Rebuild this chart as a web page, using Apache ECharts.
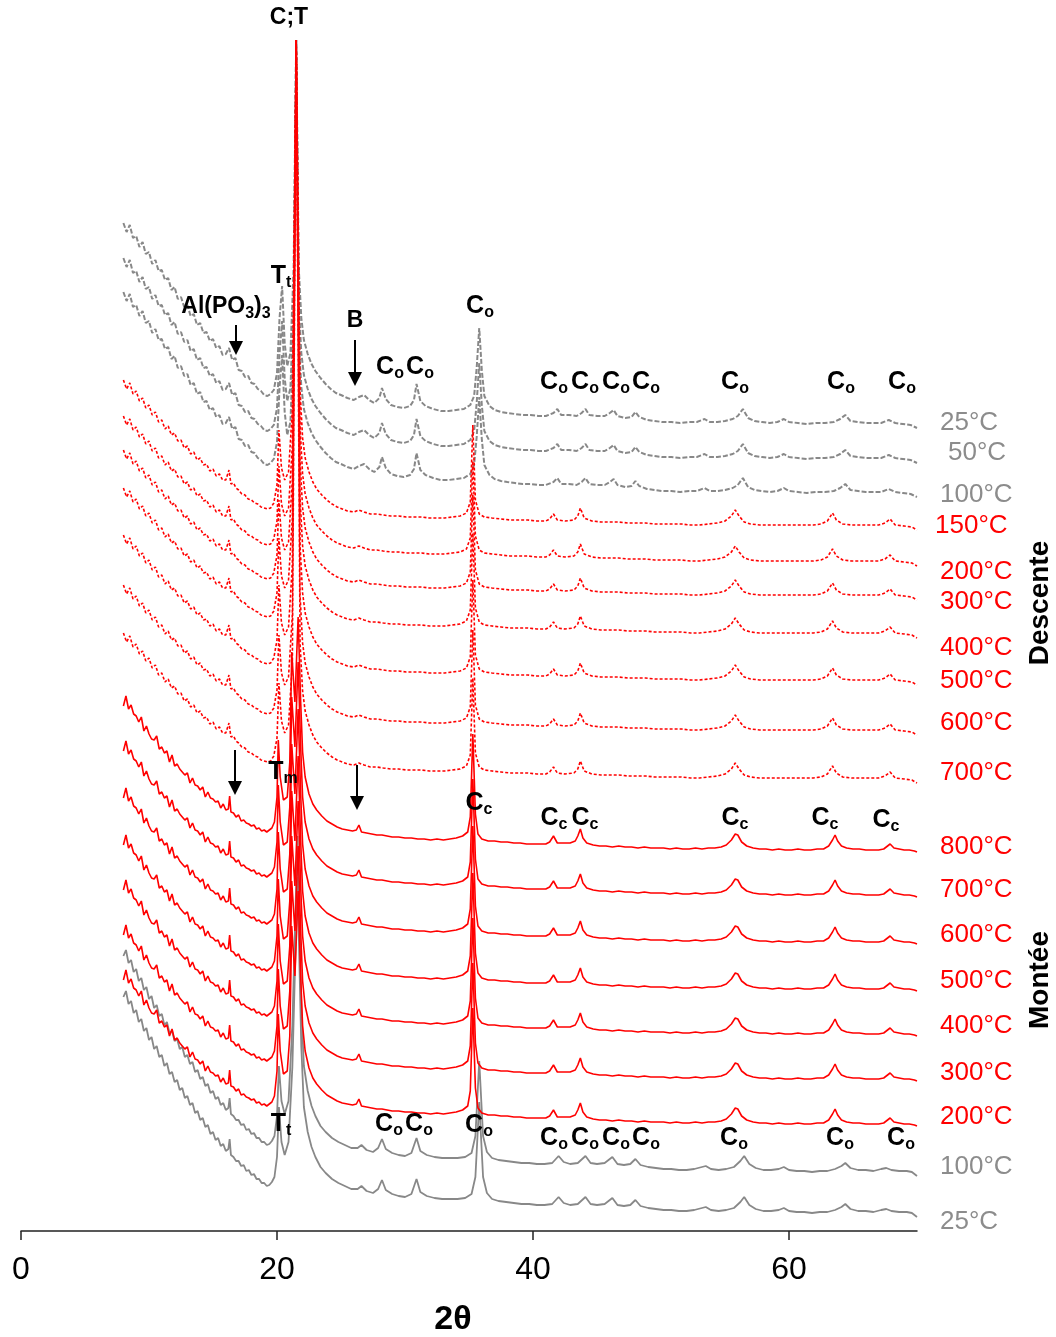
<!DOCTYPE html>
<html><head><meta charset="utf-8">
<script src="https://cdn.jsdelivr.net/npm/echarts@6/dist/echarts.min.js"></script>
<style>html,body{margin:0;padding:0;background:#fff}#c{width:1056px;height:1337px}</style>
</head><body><div id="c"></div><script>
// ---------- DATA (2θ in degrees, intensity in arbitrary units) ----------
const xTicks = [0, 20, 40, 60];

const descenteTemps = ['25°C','50°C','100°C','150°C','200°C','300°C','400°C','500°C','600°C','700°C'];
const descenteBaselines = [803, 768, 734, 701, 665, 631, 593, 546, 496, 448];
const descentePeakHeights = [388, 423, 457, 490, 526, 560, 598, 645, 695, 743];

const monteeTemps = ['800°C','700°C','600°C','500°C','400°C','300°C','200°C','100°C','25°C'];
const monteeBaselines = [379, 334, 287, 240, 195, 150, 105, 55, 14];

// gray (dashed) descente pattern (orthorhombic, Co)
const grayDescenteProfile = [[8.0,205],[8.25,196],[8.5,203],[8.75,190],[9.0,192],[9.25,181],[9.5,186],[9.75,174],[10.0,176],[10.25,164],[10.5,168],[10.75,157],[11.0,158],[11.25,148],[11.5,150],[11.75,138],[12.0,141],[12.25,129],[12.5,131],[12.75,121],[13.0,123],[13.25,112],[13.5,114],[13.75,103],[14.0,105],[14.25,95],[14.5,96],[14.75,87],[15.0,89],[15.25,80],[15.5,82],[15.75,73],[16.0,74],[16.25,80],[16.5,68],[16.75,70],[17.0,58],[17.25,57],[17.5,51],[17.75,52],[18.0,45],[18.25,44],[18.5,39],[18.75,37],[19.0,33],[19.25,32],[19.5,34],[19.75,38],[20.0,55],[20.2,110],[20.4,142],[20.6,85],[20.8,62],[21.05,75],[21.3,160],[21.5,388],[21.7,160],[21.9,110],[22.1,88],[22.4,74],[22.7,64],[23.0,57],[23.4,50],[23.8,44],[24.2,39],[24.6,35],[25.0,33],[25.5,30],[26.0,28],[26.4,31],[26.8,33],[27.2,28],[27.6,25],[28.0,30],[28.2,40],[28.5,29],[28.9,23],[29.4,21],[29.9,20],[30.4,22],[30.7,28],[30.9,44],[31.2,27],[31.6,22],[32.2,19],[32.8,17],[33.4,17],[34.0,18],[34.6,19],[35.1,23],[35.4,32],[35.6,60],[35.8,100],[36.0,58],[36.2,32],[36.6,22],[37.0,18],[37.5,16],[38.0,15],[38.6,14],[39.2,13],[39.8,13],[40.4,12],[41.0,12],[41.6,15],[41.9,19],[42.2,13],[42.8,13],[43.4,12],[43.8,15],[44.1,19],[44.4,13],[45.0,12],[45.6,12],[46.0,15],[46.3,18],[46.6,12],[47.2,10],[47.7,11],[48.0,16],[48.3,11],[48.9,8],[49.5,7],[50.1,6],[50.8,6],[51.5,5],[52.2,6],[52.8,6],[53.4,9],[53.8,6],[54.4,6],[55.0,7],[55.6,9],[56.0,12],[56.4,19],[56.8,10],[57.3,7],[57.9,6],[58.5,5],[59.1,6],[59.6,9],[60.0,6],[60.7,5],[61.4,4],[62.1,5],[62.8,5],[63.5,6],[64.0,9],[64.4,13],[64.8,7],[65.4,6],[66.0,5],[66.6,5],[67.2,5],[67.8,8],[68.3,5],[68.9,4],[69.5,3],[70.0,0]];

// red (dotted) descente pattern (cubic, Cc)
const redDescenteProfile = [[8.0,150],[8.25,141],[8.5,147],[8.75,136],[9.0,139],[9.25,129],[9.5,132],[9.75,122],[10.0,125],[10.25,115],[10.5,118],[10.75,108],[11.0,110],[11.25,101],[11.5,104],[11.75,95],[12.0,97],[12.25,89],[12.5,90],[12.75,82],[13.0,84],[13.25,76],[13.5,78],[13.75,70],[14.0,72],[14.25,65],[14.5,66],[14.75,59],[15.0,61],[15.25,54],[15.5,56],[15.75,50],[16.0,50],[16.25,60],[16.4,46],[16.6,47],[16.8,42],[17.0,40],[17.25,36],[17.5,35],[17.75,31],[18.0,30],[18.25,27],[18.5,26],[18.75,23],[19.0,22],[19.25,21],[19.5,22],[19.75,27],[20.0,45],[20.15,100],[20.35,62],[20.6,50],[20.9,58],[21.2,120],[21.5,490],[21.8,140],[22.0,92],[22.2,72],[22.5,58],[22.8,48],[23.1,41],[23.5,35],[23.9,30],[24.3,26],[24.7,23],[25.1,21],[25.5,19],[26.0,18],[26.4,20],[26.8,18],[27.3,16],[27.8,16],[28.3,15],[28.9,14],[29.5,14],[30.1,13],[30.7,13],[31.3,13],[31.9,12],[32.5,12],[33.1,12],[33.7,13],[34.3,14],[34.8,17],[35.1,28],[35.3,105],[35.5,30],[35.8,16],[36.2,13],[36.8,12],[37.5,11],[38.2,10],[38.9,10],[39.6,10],[40.3,9],[41.0,9],[41.3,11],[41.6,16],[41.9,10],[42.5,9],[43.2,10],[43.5,14],[43.7,22],[44.0,12],[44.6,9],[45.3,8],[46.0,8],[46.7,8],[47.4,7],[48.1,7],[48.8,7],[49.5,6],[50.2,6],[50.9,6],[51.6,6],[52.3,5],[53.0,5],[53.7,6],[54.4,7],[55.0,9],[55.5,14],[55.8,20],[56.1,14],[56.5,8],[57.0,6],[57.7,5],[58.4,5],[59.1,5],[59.8,5],[60.5,5],[61.2,5],[61.9,5],[62.5,6],[63.0,9],[63.4,17],[63.7,10],[64.2,6],[64.9,5],[65.6,5],[66.3,5],[67.0,5],[67.5,7],[67.9,11],[68.3,5],[69.0,4],[69.6,3],[70.0,0]];

// red (solid) montée pattern (monoclinic Tm + cubic Cc)
const redMonteeProfile = [[8.0,146],[8.2,156],[8.4,143],[8.6,147],[8.8,138],[9.0,136],[9.2,130],[9.4,135],[9.6,121],[9.8,126],[10.0,118],[10.2,113],[10.4,112],[10.6,116],[10.8,103],[11.0,105],[11.2,99],[11.4,101],[11.6,90],[11.8,97],[12.0,86],[12.2,88],[12.4,83],[12.6,80],[12.8,77],[13.0,79],[13.2,69],[13.4,74],[13.6,67],[13.8,66],[14.0,62],[14.2,65],[14.4,55],[14.6,60],[14.8,54],[15.0,53],[15.2,50],[15.4,51],[15.6,44],[15.8,48],[16.0,42],[16.2,43],[16.3,56],[16.4,40],[16.6,39],[16.8,35],[17.0,37],[17.2,31],[17.4,32],[17.6,29],[17.8,28],[18.0,26],[18.2,27],[18.4,23],[18.6,24],[18.8,21],[19.0,22],[19.2,20],[19.4,22],[19.6,24],[19.8,30],[20.0,55],[20.1,112],[20.25,75],[20.5,52],[20.8,55],[21.0,90],[21.15,200],[21.4,150],[21.65,235],[21.85,150],[22.0,100],[22.2,75],[22.5,58],[22.8,48],[23.1,42],[23.5,36],[23.9,31],[24.3,28],[24.7,25],[25.1,23],[25.5,22],[25.9,21],[26.2,22],[26.4,27],[26.6,20],[27.0,19],[27.4,18],[27.8,17],[28.2,17],[28.6,16],[29.0,15],[29.5,15],[30.0,14],[30.5,14],[31.0,13],[31.5,13],[32.0,12],[32.5,13],[33.0,12],[33.5,13],[34.0,14],[34.5,16],[34.9,20],[35.1,35],[35.3,118],[35.5,38],[35.7,18],[36.0,13],[36.5,11],[37.0,11],[37.5,10],[38.0,10],[38.5,9],[39.0,9],[39.5,8],[40.0,8],[40.5,8],[41.0,8],[41.3,10],[41.6,16],[41.9,9],[42.4,9],[42.9,9],[43.3,11],[43.5,16],[43.7,23],[43.9,14],[44.2,9],[44.7,7],[45.2,6],[45.7,6],[46.2,5],[46.7,6],[47.2,5],[47.7,5],[48.2,4],[48.7,5],[49.2,4],[49.7,4],[50.2,4],[50.7,3],[51.2,4],[51.7,3],[52.2,3],[52.7,4],[53.2,3],[53.7,4],[54.2,4],[54.7,5],[55.1,7],[55.5,12],[55.8,18],[56.0,17],[56.3,10],[56.7,6],[57.2,4],[57.7,3],[58.2,3],[58.7,2],[59.2,3],[59.7,2],[60.2,2],[60.7,3],[61.2,2],[61.7,2],[62.2,3],[62.7,3],[63.1,6],[63.4,12],[63.6,17],[63.8,11],[64.1,6],[64.5,4],[65.0,3],[65.5,3],[66.0,2],[66.5,2],[67.0,2],[67.4,3],[67.7,6],[67.9,8],[68.2,4],[68.6,3],[69.0,2],[69.4,2],[69.8,1],[70.0,0]];

// gray (solid) montée pattern (tetragonal Tt + orthorhombic Co)
const grayMonteeProfile = [[8.0,220],[8.2,226],[8.4,213],[8.6,216],[8.8,204],[9.0,207],[9.2,195],[9.4,198],[9.6,186],[9.8,189],[10.0,177],[10.2,180],[10.4,168],[10.6,171],[10.8,160],[11.0,162],[11.2,151],[11.4,154],[11.6,143],[11.8,145],[12.0,135],[12.2,137],[12.4,127],[12.6,129],[12.8,119],[13.0,121],[13.2,112],[13.4,114],[13.6,104],[13.8,106],[14.0,97],[14.2,99],[14.4,90],[14.6,92],[14.8,83],[15.0,85],[15.2,77],[15.4,79],[15.6,71],[15.8,73],[16.0,66],[16.2,68],[16.3,78],[16.4,62],[16.6,60],[16.8,56],[17.0,56],[17.2,51],[17.4,52],[17.6,46],[17.8,47],[18.0,42],[18.2,43],[18.4,38],[18.6,38],[18.8,34],[19.0,34],[19.2,31],[19.4,32],[19.6,35],[19.8,40],[20.0,60],[20.15,110],[20.35,75],[20.6,62],[20.9,75],[21.2,150],[21.6,340],[21.9,170],[22.1,110],[22.4,85],[22.7,70],[23.0,60],[23.4,50],[23.8,44],[24.3,38],[24.8,34],[25.3,31],[25.8,28],[26.3,28],[26.6,31],[27.0,26],[27.5,24],[27.9,28],[28.2,37],[28.5,27],[29.0,23],[29.5,21],[30.0,20],[30.5,23],[30.9,38],[31.2,25],[31.7,21],[32.3,19],[32.9,18],[33.5,18],[34.1,18],[34.7,19],[35.2,23],[35.5,40],[35.8,115],[36.1,40],[36.4,24],[36.8,18],[37.3,16],[37.9,15],[38.5,14],[39.1,13],[39.7,13],[40.3,12],[40.9,12],[41.5,13],[42.0,20],[42.4,14],[42.9,12],[43.5,13],[44.1,20],[44.5,13],[45.0,12],[45.6,13],[46.2,19],[46.6,12],[47.1,11],[47.6,12],[48.0,17],[48.4,11],[49.0,9],[49.6,8],[50.2,7],[50.8,7],[51.4,6],[52.0,6],[52.6,7],[53.2,9],[53.5,10],[53.9,7],[54.5,6],[55.1,7],[55.7,9],[56.2,15],[56.5,20],[56.9,12],[57.4,8],[58.0,6],[58.6,6],[59.2,7],[59.6,9],[60.0,6],[60.6,5],[61.2,5],[61.8,4],[62.4,5],[63.0,5],[63.6,7],[64.1,10],[64.4,13],[64.8,8],[65.4,6],[66.0,6],[66.6,5],[67.2,7],[67.6,8],[68.0,6],[68.6,5],[69.2,5],[69.6,4],[70.0,0]];

// ---------- LAYOUT / STYLE ----------
const FONT = '"Liberation Sans", Arial, sans-serif';
const GRAY = '#888888', GRAYTXT = '#8c8c8c', RED = '#ff0000';
const descLabelPos = [[940,423],[948,453],[940,495],[935,526],[940,572],[940,602],[940,648],[940,681],[940,723],[940,773]];
const montLabelPos = [[940,847],[940,890],[940,935],[940,981],[940,1026],[940,1073],[940,1117],[940,1167],[940,1222]];

const series = [];
function shifted(profile, base, apexAngle, apexH) {
  return profile.map(p => [p[0], base + ((apexAngle !== null && p[0] === apexAngle) ? apexH : p[1])]);
}
function addSeries(name, data, color, width, type, z) {
  series.push({ name, type: 'line', data, symbol: 'none', silent: true, z,
    lineStyle: { color, width, type }, animation: false });
}
// draw order: gray first, red on top
descenteTemps.forEach((t, i) => { if (i < 3) addSeries('D ' + t, shifted(grayDescenteProfile, descenteBaselines[i], 21.5, descentePeakHeights[i]), GRAY, 2, [5, 2], 2); });
monteeTemps.forEach((t, i) => { if (i >= 7) addSeries('M ' + t, shifted(grayMonteeProfile, monteeBaselines[i], null, 0), GRAY, 1.8, 'solid', 2); });
descenteTemps.forEach((t, i) => { if (i >= 3) addSeries('D ' + t, shifted(redDescenteProfile, descenteBaselines[i], 21.5, descentePeakHeights[i]), RED, 1.6, [3, 2], 3); });
monteeTemps.forEach((t, i) => { if (i < 7) addSeries('M ' + t, shifted(redMonteeProfile, monteeBaselines[i], null, 0), RED, 1.6, 'solid', 4); });

const graphic = [];
descenteTemps.forEach((t, i) => graphic.push({ type: 'text', x: descLabelPos[i][0], y: descLabelPos[i][1],
  style: { text: t, fill: i < 3 ? GRAYTXT : RED, font: '26px ' + FONT, align: 'left', verticalAlign: 'middle' } }));
monteeTemps.forEach((t, i) => graphic.push({ type: 'text', x: montLabelPos[i][0], y: montLabelPos[i][1],
  style: { text: t, fill: i >= 7 ? GRAYTXT : RED, font: '26px ' + FONT, align: 'left', verticalAlign: 'middle' } }));
graphic.push({ type: 'text', x: 1040, y: 603, rotation: Math.PI / 2,
  style: { text: 'Descente', fill: '#000', font: 'bold 28px ' + FONT, align: 'center', verticalAlign: 'middle' } });
graphic.push({ type: 'text', x: 1040, y: 980, rotation: Math.PI / 2,
  style: { text: 'Montée', fill: '#000', font: 'bold 28px ' + FONT, align: 'center', verticalAlign: 'middle' } });
graphic.push({ type: 'text', x: 453, y: 1320,
  style: { text: '2θ', fill: '#000', font: 'bold 34px ' + FONT, align: 'center', verticalAlign: 'middle' } });

// phase annotations: segments [text, isSubscript], centre x, y
const MAINF = 'bold 25px ' + FONT, SMALLF = 'bold 23px ' + FONT, SUBF = 'bold 16px ' + FONT;
const annotations = [
  [[['C;T', 0]], 289, 18, SMALLF], [[['T', 0], ['t', 1]], 281, 276, MAINF],
  [[['Al(PO', 0], ['3', 1], [')', 0], ['3', 1]], 226, 307, SMALLF], [[['B', 0]], 355, 321, SMALLF],
  [[['C', 0], ['o', 1]], 390, 367], [[['C', 0], ['o', 1]], 420, 367], [[['C', 0], ['o', 1]], 480, 306],
  [[['C', 0], ['o', 1]], 554, 382], [[['C', 0], ['o', 1]], 585, 382], [[['C', 0], ['o', 1]], 616, 382], [[['C', 0], ['o', 1]], 646, 382],
  [[['C', 0], ['o', 1]], 735, 382], [[['C', 0], ['o', 1]], 841, 382], [[['C', 0], ['o', 1]], 902, 382],
  [[['T', 0], ['m', 1]], 283, 772], [[['C', 0], ['c', 1]], 479, 803],
  [[['C', 0], ['c', 1]], 554, 818], [[['C', 0], ['c', 1]], 585, 818], [[['C', 0], ['c', 1]], 735, 818], [[['C', 0], ['c', 1]], 825, 818], [[['C', 0], ['c', 1]], 886, 820],
  [[['T', 0], ['t', 1]], 281, 1124], [[['C', 0], ['o', 1]], 389, 1124], [[['C', 0], ['o', 1]], 419, 1124], [[['C', 0], ['o', 1]], 479, 1125],
  [[['C', 0], ['o', 1]], 554, 1138], [[['C', 0], ['o', 1]], 585, 1138], [[['C', 0], ['o', 1]], 616, 1138], [[['C', 0], ['o', 1]], 646, 1138],
  [[['C', 0], ['o', 1]], 734, 1138], [[['C', 0], ['o', 1]], 840, 1138], [[['C', 0], ['o', 1]], 901, 1138]
];
const measureCtx = document.createElement('canvas').getContext('2d');
function textW(t, f) { measureCtx.font = f; return measureCtx.measureText(t).width; }
annotations.forEach(a => {
  const mainF = a[3] || MAINF;
  const segs = a[0].map(s => ({ t: s[0], sub: s[1], f: s[1] ? SUBF : mainF }));
  const total = segs.reduce((w, s) => w + textW(s.t, s.f), 0);
  let x = a[1] - total / 2;
  segs.forEach(s => {
    graphic.push({ type: 'text', x, y: a[2] + (s.sub ? 7 : 0), z: 10,
      style: { text: s.t, font: s.f, fill: '#000', align: 'left', verticalAlign: 'middle' } });
    x += textW(s.t, s.f);
  });
});
const arrows = [[236, 325, 355], [355, 340, 386], [235, 750, 795], [357, 765, 810]];
arrows.forEach(a => {
  graphic.push({ type: 'line', z: 10, shape: { x1: a[0], y1: a[1], x2: a[0], y2: a[2] - 10 }, style: { stroke: '#000', lineWidth: 2 } });
  graphic.push({ type: 'polygon', z: 10, shape: { points: [[a[0] - 7, a[2] - 14], [a[0] + 7, a[2] - 14], [a[0], a[2]]] }, style: { fill: '#000' } });
});

const chart = echarts.init(document.getElementById('c'), null, { renderer: 'canvas' });
chart.setOption({
  backgroundColor: '#fff',
  animation: false,
  grid: { left: 21, right: 139, top: 0, bottom: 106, containLabel: false },
  xAxis: { type: 'value', min: 0, max: 70, interval: 20,
    axisLine: { show: true, lineStyle: { color: '#222', width: 1.5 } },
    axisTick: { show: true, inside: false, length: 9, lineStyle: { color: '#222', width: 1.5 } },
    axisLabel: { fontSize: 32, color: '#000', fontFamily: FONT, margin: 23, showMaxLabel: false,
      formatter: v => xTicks.includes(v) ? String(v) : '' },
    splitLine: { show: false } },
  yAxis: { type: 'value', min: 0, max: 1231, show: false, splitLine: { show: false } },
  series,
  graphic
});
</script></body></html>
